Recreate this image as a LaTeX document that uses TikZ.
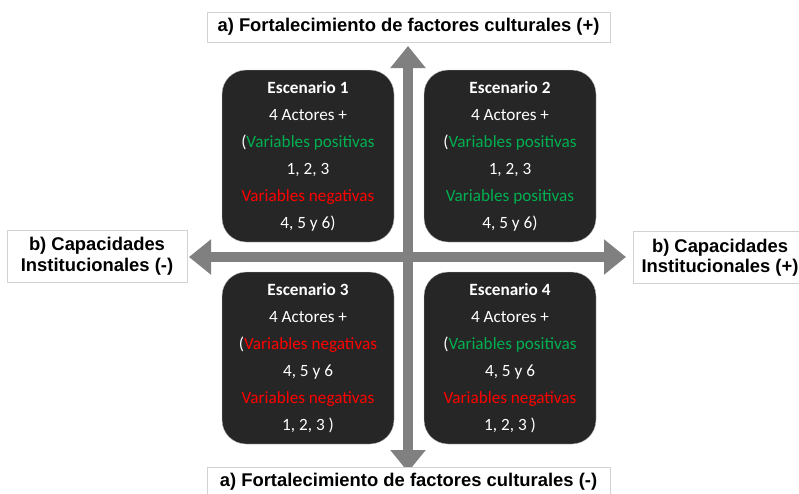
\documentclass[tikz,border=0pt]{standalone}
\usepackage{fontspec}
\setmainfont{Liberation Sans}
\newfontfamily\calibri{Carlito}
\usetikzlibrary{arrows.meta, positioning}
\definecolor{fondo}{HTML}{262626}
\definecolor{verde}{HTML}{00B050}
\definecolor{rojo}{HTML}{FF0000}
\definecolor{gris}{HTML}{808080}
\newcommand{\pos}[1]{\textcolor{verde}{#1}}
\newcommand{\nega}[1]{\textcolor{rojo}{#1}}
\tikzstyle{escenario} = [fill=fondo, draw=gray!45, rounded corners=24pt, minimum width=172pt, minimum height=172pt, text=white, font=\calibri\fontsize{17.2}{27}\selectfont, align=center]
\tikzstyle{etiqueta} = [draw=gray!35, fill=white, font=\bfseries\fontsize{18.4}{20.5}\selectfont, align=center]
\tikzstyle{flecha} = [draw=gris, line width=10pt, {Triangle[width=34pt,length=22pt]}-{Triangle[width=34pt,length=22pt]}]

\begin{document}
\begin{tikzpicture}[x=1pt, y=-1pt]
	\useasboundingbox (0,0) rectangle (799,493);
	% ejes
	\coordinate (arriba) at (408,46);
	\coordinate (abajo) at (408,472);
	\coordinate (izq) at (189,257);
	\coordinate (der) at (626,257);
	\draw[flecha] (arriba) -- (abajo);
	\draw[flecha] (izq) -- (der);
	% etiquetas de los ejes
	\node[etiqueta, minimum width=403pt, minimum height=30pt] (culturalmas) at (408.5,27) {a) Fortalecimiento de factores culturales (+)};
	\node[etiqueta, minimum width=403pt, minimum height=30pt] (culturalmenos) at (408.5,482) {a) Fortalecimiento de factores culturales (-)};
	\node[etiqueta, minimum width=180pt, minimum height=52pt] (instmenos) at (97,256) {b) Capacidades\\Institucionales (-)};
	\node[etiqueta, minimum width=174pt, minimum height=52pt] (instmas) at (720,257.5) {b) Capacidades\\Institucionales (+)};
	% escenarios
	\node[escenario] (esc1) at (308,156) {\textbf{Escenario 1}\\4 Actores +\\(\pos{Variables positivas}\\1, 2, 3\\\nega{Variables negativas}\\4, 5 y 6)};
	\node[escenario] (esc2) at (510,156) {\textbf{Escenario 2}\\4 Actores +\\(\pos{Variables positivas}\\1, 2, 3\\\pos{Variables positivas}\\4, 5 y 6)};
	\node[escenario] (esc3) at (308,358) {\textbf{Escenario 3}\\4 Actores +\\(\nega{Variables negativas}\\4, 5 y 6\\\nega{Variables negativas}\\1, 2, 3 )};
	\node[escenario] (esc4) at (510,358) {\textbf{Escenario 4}\\4 Actores +\\(\pos{Variables positivas}\\4, 5 y 6\\\nega{Variables negativas}\\1, 2, 3 )};
\end{tikzpicture}
\end{document}
